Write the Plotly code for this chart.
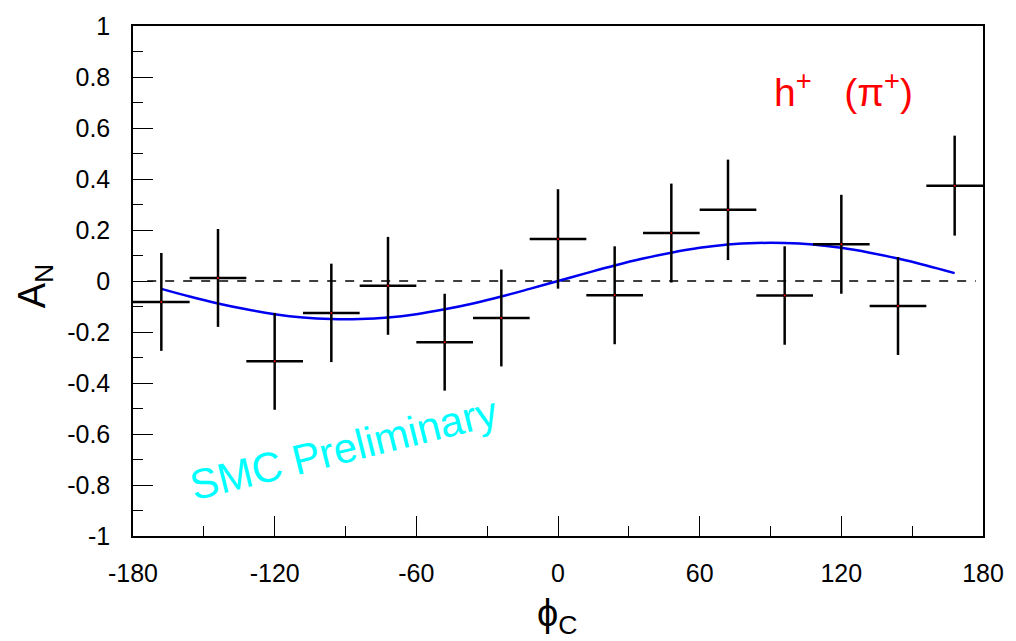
import plotly.graph_objects as go

# ---- data ----
phi_c = [-168, -144, -120, -96, -72, -48, -24, 0, 24, 48, 72, 96, 120, 144, 168]
a_n = [-0.082, 0.012, -0.315, -0.125, -0.019, -0.240, -0.145, 0.165, -0.056, 0.188, 0.279, -0.057, 0.144, -0.098, 0.374]
a_n_err = [0.192, 0.192, 0.190, 0.193, 0.192, 0.190, 0.190, 0.195, 0.192, 0.194, 0.197, 0.193, 0.194, 0.192, 0.196]
bin_half_width = [12] * len(phi_c)

fit_phi = [-168, -156, -144, -132, -120, -108, -96, -84, -72, -60, -48, -36, -24, -12, 0,
           12, 24, 36, 48, 60, 72, 84, 96, 108, 120, 132, 144, 156, 168]
fit_val = [-0.031, -0.061, -0.088, -0.111, -0.130, -0.143, -0.149, -0.149, -0.143, -0.130, -0.111, -0.088, -0.061, -0.031, 0.0,
           0.031, 0.061, 0.088, 0.111, 0.130, 0.143, 0.149, 0.149, 0.143, 0.130, 0.111, 0.088, 0.061, 0.031]

x_ticks = [-180, -120, -60, 0, 60, 120, 180]
y_ticks = [-1, -0.8, -0.6, -0.4, -0.2, 0, 0.2, 0.4, 0.6, 0.8, 1]
y_tick_text = ["-1", "-0.8", "-0.6", "-0.4", "-0.2", "0", "0.2", "0.4", "0.6", "0.8", "1"]

FONT = "Liberation Sans, Arial, Helvetica, sans-serif"

fig = go.Figure()

fig.add_trace(go.Scatter(
    x=fit_phi, y=fit_val, mode="lines",
    line=dict(color="#0000F0", width=2.5, shape="spline"),
    hoverinfo="skip", showlegend=False,
))

fig.add_trace(go.Scatter(
    x=phi_c, y=a_n, mode="markers",
    marker=dict(size=2, color="red"),
    error_x=dict(type="data", array=bin_half_width, width=0, thickness=2.5, color="black"),
    error_y=dict(type="data", array=a_n_err, width=0, thickness=2.5, color="black"),
    showlegend=False,
))

# dashed zero line
fig.add_shape(type="line", x0=-174, x1=177, y0=0, y1=0, xref="x", yref="y",
              line=dict(color="black", width=1.3, dash="dash"), layer="below")

fig.add_annotation(x=121, y=0.75, xref="x", yref="y", showarrow=False,
                   text="h<sup>+</sup>   (π<sup>+</sup>)",
                   font=dict(family=FONT, size=39, color="red"))

fig.add_annotation(x=-91, y=-0.655, xref="x", yref="y", showarrow=False,
                   text="SMC Preliminary", textangle=-14,
                   font=dict(family=FONT, size=42, color="#00FFFF"))

# axis titles
fig.add_annotation(x=0.499, y=-0.105, xref="paper", yref="paper", showarrow=False,
                   yanchor="top", text="ϕ<sub>C</sub>",
                   font=dict(family=FONT, size=38, color="black"))
fig.add_annotation(x=-0.115, y=0.49, xref="paper", yref="paper", showarrow=False,
                   xanchor="center", text="A<sub>N</sub>", textangle=-90,
                   font=dict(family=FONT, size=38, color="black"))

fig.update_layout(
    width=1016, height=641,
    margin=dict(l=133, r=27, t=22, b=105),
    paper_bgcolor="white", plot_bgcolor="white",
    font=dict(family=FONT, size=25, color="black"),
    xaxis=dict(range=[-180, 180], tickvals=x_ticks, ticktext=[str(v) for v in x_ticks],
               ticks="inside", ticklen=20, tickwidth=1.2, tickcolor="black",
               minor=dict(dtick=30, ticks="inside", ticklen=10, tickwidth=1.2, tickcolor="black"),
               showline=True, linecolor="black", linewidth=1.5, mirror=True,
               showgrid=False, zeroline=False, ticklabelstandoff=14),
    yaxis=dict(range=[-1, 1], tickvals=y_ticks, ticktext=y_tick_text,
               ticks="inside", ticklen=20, tickwidth=1.2, tickcolor="black",
               minor=dict(dtick=0.1, ticks="inside", ticklen=10, tickwidth=1.2, tickcolor="black"),
               showline=True, linecolor="black", linewidth=1.5, mirror=True,
               showgrid=False, zeroline=False, ticklabelstandoff=16),
)

fig.write_html("out.html", config={"displayModeBar": False},
               post_script="document.body.style.margin='0';document.body.style.overflow='hidden';")
